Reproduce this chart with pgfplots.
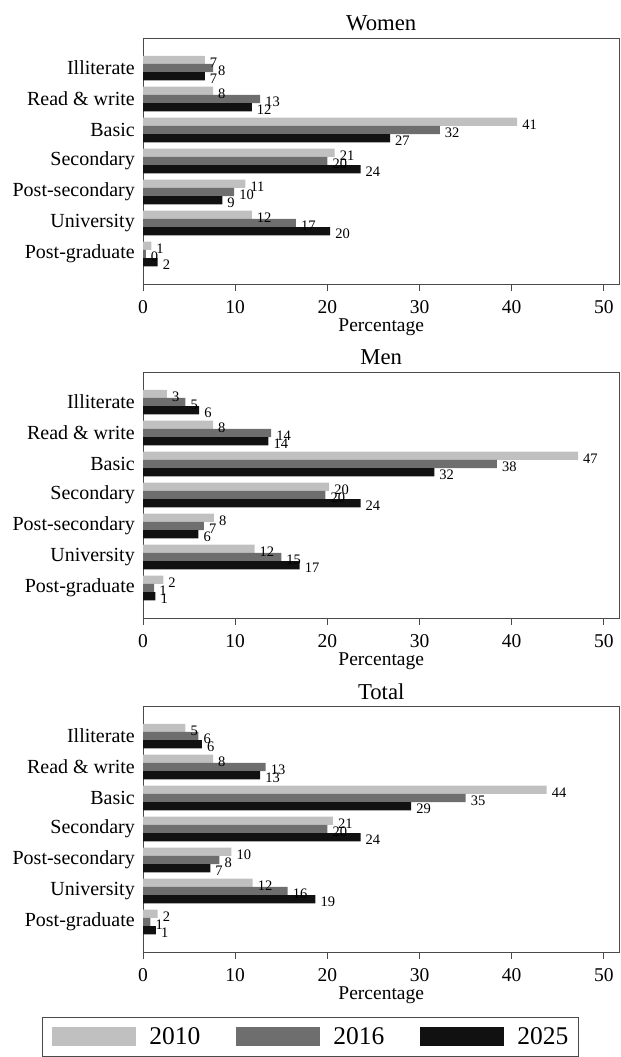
\documentclass[border=0pt]{standalone}
\usepackage{fontspec}
\setmainfont{Liberation Serif}
\usepackage{pgfplots}
\usepackage{pgfplotstable}
\pgfplotsset{compat=1.18}

\definecolor{c2010}{HTML}{C0C0C0}
\definecolor{c2016}{HTML}{6E6E6E}
\definecolor{c2025}{HTML}{111111}
\definecolor{framec}{HTML}{4A4A4A}

\pgfplotstableread{
cat y2010 y2016 y2025
0 6.7 7.6 6.7
1 7.6 12.7 11.8
2 40.6 32.2 26.8
3 20.8 20.0 23.6
4 11.1 9.9 8.6
5 11.8 16.6 20.3
6 0.9 0.3 1.6
}\women
\pgfplotstableread{
cat y2010 y2016 y2025
0 2.6 4.6 6.1
1 7.6 13.9 13.6
2 47.2 38.4 31.6
3 20.2 19.8 23.6
4 7.7 6.6 6.0
5 12.1 15.0 17.0
6 2.2 1.2 1.35
}\men
\pgfplotstableread{
cat y2010 y2016 y2025
0 4.6 6.0 6.4
1 7.6 13.3 12.7
2 43.8 35.0 29.1
3 20.6 20.0 23.6
4 9.6 8.3 7.3
5 11.9 15.7 18.7
6 1.6 0.8 1.4
}\total

\pgfplotsset{
  panel/.style={
    xbar, scale only axis, width=476.5bp, height=246bp,
    xmin=0, xmax=51.7, ymin=-0.97, ymax=6.97, y dir=reverse,
    axis line style={draw=framec, line width=1bp},
    xtick={0,10,...,50}, xtick pos=bottom, tick align=outside,
    major tick length=6.5bp,
    xtick style={draw=framec, line width=1bp},
    ytick={0,...,6},
    yticklabels={Illiterate, Read \& write, Basic, Secondary, Post-secondary, University, Post-graduate},
    ytick style={draw=none},
    yticklabel style={font=\fontsize{20bp}{20bp}\selectfont, inner sep=0pt, anchor=east, xshift=-1.5bp},
    xticklabel style={font=\fontsize{19.5bp}{19.5bp}\selectfont, anchor=center, inner sep=0pt, yshift=-16.5bp},
    /pgf/number format/assume math mode=true,
    xlabel={Percentage},
    xlabel style={font=\fontsize{19.5bp}{19.5bp}\selectfont, at={(axis description cs:0.5,0)}, anchor=center, yshift=-43bp},
    title style={font=\fontsize{22.7bp}{22.7bp}\selectfont, at={(axis description cs:0.5,1)}, anchor=center, yshift=8.5bp},
    bar width=8.2bp,
    point meta=x,
    nodes near coords={\pgfmathprintnumber[fixed,precision=0,assume math mode=true]{\pgfplotspointmeta}},
    nodes near coords style={font=\fontsize{14.5bp}{14.5bp}\selectfont, anchor=west, inner sep=0pt, xshift=5bp, yshift=-2.5bp},
    clip=false,
  },
  b2010/.style={fill=c2010, draw=none, bar shift=8.2bp},
  b2016/.style={fill=c2016, draw=none, bar shift=0bp},
  b2025/.style={fill=c2025, draw=none, bar shift=-8.2bp},
}

\begin{document}
\begin{tikzpicture}
\clip (0,0) rectangle (621bp,-1057bp);

\begin{axis}[panel, at={(143bp,-38bp)}, anchor=north west, title={Women}]
\addplot[b2010] table[x=y2010, y=cat] {\women};
\addplot[b2016] table[x=y2016, y=cat] {\women};
\addplot[b2025] table[x=y2025, y=cat] {\women};
\end{axis}

\begin{axis}[panel, at={(143bp,-372bp)}, anchor=north west, title={Men}]
\addplot[b2010] table[x=y2010, y=cat] {\men};
\addplot[b2016] table[x=y2016, y=cat] {\men};
\addplot[b2025] table[x=y2025, y=cat] {\men};
\end{axis}

\begin{axis}[panel, at={(143bp,-706bp)}, anchor=north west, title={Total},
  legend columns=3,
  legend image code/.code={\fill[#1] (0bp,-9.5bp) rectangle (84bp,9.5bp);},
  legend style={at={(-0.212,-0.264)}, anchor=north west, draw=framec, line width=1bp,
    font=\fontsize{25.5bp}{25.5bp}\selectfont, inner xsep=10bp, inner ysep=10bp,
    nodes={inner sep=0pt},
    /tikz/every odd column/.append style={column sep=13bp},
    /tikz/every even column/.append style={column sep=36bp}},
]
\addplot[b2010] table[x=y2010, y=cat] {\total};
\addplot[b2016] table[x=y2016, y=cat] {\total};
\addplot[b2025] table[x=y2025, y=cat] {\total};
\legend{2010,2016,2025}
\end{axis}
\end{tikzpicture}
\end{document}
